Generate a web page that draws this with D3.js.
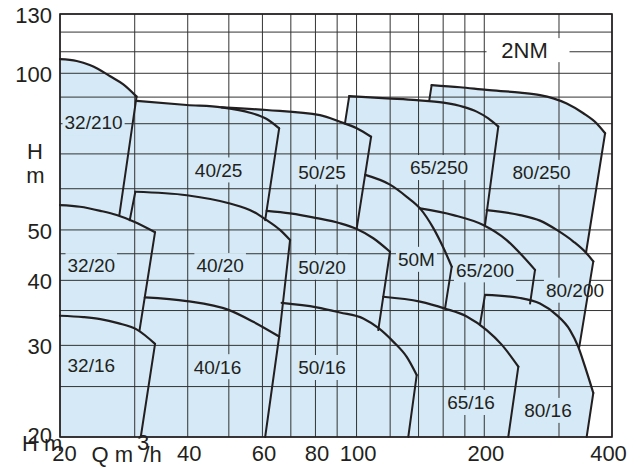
<!DOCTYPE html>
<html><head><meta charset="utf-8">
<script src="https://cdn.jsdelivr.net/npm/d3@7"></script>
<style>
body{margin:0;background:#fff}
svg{display:block}
text{font-family:"Liberation Sans",Arial,Helvetica,sans-serif;fill:#231f20}
</style>
</head><body>
<svg id="c" width="640" height="468"></svg>
<script>
// ---- axis ticks and grid (Q in m3/h, H in m) ----
const xTicks = [20, 40, 60, 80, 100, 200, 400];
const yTicks = [20, 30, 40, 50, 100, 130];
const xGrid = [20, 30, 40, 50, 60, 70, 80, 90, 100, 120, 140, 160, 180, 200, 300, 400];
const yGrid = [20, 25, 30, 35, 40, 45, 50, 60, 70, 80, 90, 100, 110, 120, 130];

// ---- performance curves [Q, H] ----
const c32_210 = [[20,106.5],[21.9,105.6],[23.5,103.7],[24.6,101.9],[26.2,98.8],[28.2,95.2],[30.3,90.2]];
const e32_210 = [[30.3,90.2],[27.6,53.4]];
const c32_20  = [[20,55.8],[22.3,55.4],[24.9,54.4],[27.2,53.4],[29.8,51.9],[33.5,49.5]];
const e32_20  = [[33.5,49.5],[30.8,32.1]];
const c32_16  = [[20,34.2],[22.7,34.0],[24.9,33.7],[27.4,33.1],[30.3,32.2],[33.5,30.2]];
const e32_16  = [[33.5,30.2],[31.0,20]];

const c40_25  = [[30.3,88.5],[39.8,86.9],[48.1,86.0],[56.1,84.0],[61.4,81.7],[65.7,78.4]];
const e40_25  = [[65.7,78.4],[60.9,52.2]];
const c40_20  = [[30.1,59.2],[39.8,58.3],[50.3,56.2],[57.1,54.2],[61.4,52.2],[66.0,50.0],[69.7,47.8]];
const l40_20  = [[30.1,59.2],[29.2,52.2]];
const e40_20  = [[69.7,47.8],[65.7,31.2]];
const c40_16  = [[31.7,37.1],[39.8,36.5],[49.9,35.1],[57.1,33.3],[65.7,31.2]];
const e40_16  = [[65.7,31.2],[60.9,20]];

const c50_25  = [[48.1,86.0],[61.4,85.0],[82.0,83.1],[91.4,80.7],[100.1,78.4],[108.2,75.5]];
const e50_25  = [[108.2,75.5],[100.1,50.4]];
const c50_20  = [[61.4,54.4],[69.7,53.8],[80.5,52.7],[91.4,51.5],[100.1,50.2],[109.5,48.2],[119.9,45.4]];
const e50_20  = [[119.9,45.4],[112.5,32.1]];
const c50_16  = [[66.6,36.2],[80.5,35.5],[91.4,34.7],[103.7,33.8],[112.5,32.4],[122.0,30.5],[131.3,28.5],[138.6,26.3]];
const e50_16  = [[138.6,26.3],[132.4,20]];

const c50M    = [[104.8,63.8],[119.9,61.1],[131.3,57.9],[141.1,55.0],[151.7,50.4],[160.2,46.2],[167.6,42.5]];
const e50M    = [[167.6,42.5],[161.6,35.3]];

const c65_250 = [[96.1,90.4],[117.8,89.5],[138.6,88.8],[160.2,87.8],[178.5,86.2],[191.9,84.4],[204.4,81.9],[215.8,79.0]];
const l65_250 = [[96.1,90.4],[93.9,80.1]];
const e65_250 = [[215.8,79.0],[200.8,51.1]];
const c65_200 = [[141.1,55.0],[169.1,53.4],[198.9,51.1],[225.8,47.8],[247.2,44.4],[263.4,41.9]];
const e65_200 = [[263.4,41.9],[256.4,36.1]];
const c65_16  = [[115.6,37.2],[141.1,36.4],[161.6,35.3],[181.8,34.1],[202.6,32.1],[219.8,30.1],[240.6,27.3]];
const e65_16  = [[240.6,27.3],[227.8,20]];

const c80_250 = [[150.3,94.9],[175.3,94.0],[202.6,92.9],[242.8,91.8],[270.6,90.8],[290.8,89.5],[312.8,87.5],[342.4,83.8],[368.2,80.1],[385.3,76.7]];
const l80_250 = [[150.3,94.9],[148.4,88.8]];
const e80_250 = [[385.3,76.7],[347.4,45.2]];
const c80_200 = [[202.6,54.6],[242.8,53.4],[270.6,52.1],[296.3,50.0],[324.3,47.5],[347.4,45.2],[361.4,43.5]];
const e80_200 = [[361.4,43.5],[334.9,29.8]];
const c80_16  = [[200.8,37.5],[242.8,37.0],[270.6,36.1],[296.3,34.3],[318.4,32.1],[333.1,29.8],[345.5,27.3],[361.4,24.3]];
const l80_16  = [[200.8,37.5],[195.4,32.9]];
const e80_16  = [[361.4,24.3],[348.6,20]];

// ---- model labels [text, Q, H] ----
const modelLabels = [
  ["32/210",24.0,80.4],["40/25",47.3,65.2],["50/25",82.9,64.6],["65/250",156.4,65.9],["80/250",273.0,64.5],
  ["32/20",23.7,42.7],["40/20",47.7,42.7],["50/20",82.9,42.4],["50M",138.4,43.9],["65/200",200.8,41.9],["80/200",327.2,38.3],
  ["32/16",23.7,27.5],["40/16",47.0,27.3],["50/16",82.9,27.2],["65/16",186.1,23.3],["80/16",282.6,22.5]
];
const seriesTitle = ["2NM", 248.8, 110.8];

// ---- drawing ----
const svg = d3.select("#c");
const L = 60, R = 612, T = 14, B = 437;
const x = d3.scaleLog().domain([20, 400]).range([L, R]);
const y = d3.scaleLog().domain([20, 130]).range([B, T]);
const FILL = "#d5eaf6", INK = "#231f20";

svg.append("rect").attr("width", 640).attr("height", 468).attr("fill", "#fff");

// envelope of all operating areas
const upTo = (c, q) => c.filter(p => p[0] <= q);
const after = (c, q, q2) => c.filter(p => p[0] > q && (q2 === undefined || p[0] < q2));
const outline = [
  ...c32_210,
  ...upTo(c40_25, c50_25[0][0]),
  ...after(c50_25, c50_25[0][0], l65_250[1][0]), l65_250[1], l65_250[0],
  ...after(c65_250, l65_250[0][0], l80_250[1][0]), l80_250[1],
  ...c80_250,
  e80_250[1], ...after(c80_200, e80_250[1][0]),
  e80_200[1], ...after(c80_16, e80_200[1][0]),
  e80_16[1], [20, 20]
];
const lin = d3.line().x(d => x(d[0])).y(d => y(d[1]));
const outlineD = lin(outline) + "Z";
svg.append("defs").append("clipPath").attr("id", "area-clip")
  .append("path").attr("d", outlineD);
svg.append("path").attr("d", outlineD).attr("fill", FILL);

// grid
const g = svg.append("g").attr("stroke", "#333").attr("stroke-width", 1);
g.selectAll("line.v").data(xGrid).join("line").attr("class", "v")
  .attr("x1", d => x(d)).attr("x2", d => x(d)).attr("y1", T).attr("y2", B);
g.selectAll("line.h").data(yGrid).join("line").attr("class", "h")
  .attr("x1", L).attr("x2", R).attr("y1", d => y(d)).attr("y2", d => y(d));

// label masks (clipped to the coloured area), curves, texts
const maskG = svg.append("g").attr("clip-path", "url(#area-clip)");
const whiteG = svg.append("g");
const lineG = svg.append("g");
const textG = svg.append("g");

svg.append("rect").attr("x", L).attr("y", T).attr("width", R - L).attr("height", B - T)
  .attr("fill", "none").attr("stroke", INK).attr("stroke-width", 1.6);

const curves = [c32_210, c32_20, c32_16, c40_25, c40_20, c40_16, c50_25, c50_20, c50_16, c50M,
  c65_250, c65_200, c65_16, c80_250, c80_200, c80_16];
const edges = [e32_210, e32_20, e32_16, e40_25, l40_20, e40_20, e40_16, e50_25, e50_20, e50_16, e50M,
  l65_250, e65_250, e65_200, e65_16, l80_250, e80_250, e80_200, e80_16, l80_16];
const smooth = d3.line().x(d => x(d[0])).y(d => y(d[1])).curve(d3.curveMonotoneX);
lineG.selectAll("path.c").data(curves).join("path").attr("class", "c")
  .attr("d", smooth).attr("fill", "none").attr("stroke", INK).attr("stroke-width", 2.2)
  .attr("stroke-linejoin", "round").attr("stroke-linecap", "round");
lineG.selectAll("path.e").data(edges).join("path").attr("class", "e")
  .attr("d", lin).attr("fill", "none").attr("stroke", INK).attr("stroke-width", 2)
  .attr("stroke-linecap", "round");

const lt = textG.selectAll("text.m").data(modelLabels).join("text").attr("class", "m")
  .attr("x", d => x(d[1])).attr("y", d => y(d[2])).attr("dy", "0.36em")
  .attr("text-anchor", "middle").attr("font-size", 19).text(d => d[0]);
lt.each(function(d) {
  const bb = this.getBBox();
  maskG.append("rect").attr("x", bb.x - 2).attr("width", bb.width + 4)
    .attr("y", y(d[2]) - 12.5).attr("height", 25).attr("fill", FILL);
});

// series title with white box
whiteG.append("rect").attr("x", x(seriesTitle[1]) - 38).attr("width", 83)
  .attr("y", y(seriesTitle[2]) - 12).attr("height", 24).attr("fill", "#fff");
textG.append("text").attr("x", x(seriesTitle[1])).attr("y", y(seriesTitle[2])).attr("dy", "0.36em")
  .attr("text-anchor", "middle").attr("font-size", 22).text(seriesTitle[0]);

// axes
const ax = svg.append("g").attr("transform", `translate(0,${B})`)
  .call(d3.axisBottom(x).tickValues(xTicks).tickSize(0).tickPadding(8).tickFormat(d3.format("d")));
ax.select(".domain").remove();
ax.selectAll("text").attr("font-size", 22).attr("font-family", null).attr("fill", INK)
  .attr("dx", d => d === 20 ? 4 : d === 400 ? -4 : 1);
const ay = svg.append("g").attr("transform", `translate(${L},0)`)
  .call(d3.axisLeft(y).tickValues(yTicks).tickSize(0).tickPadding(8).tickFormat(d3.format("d")));
ay.select(".domain").remove();
ay.selectAll("text").attr("font-size", 22).attr("font-family", null).attr("fill", INK)
  .attr("dy", d => d === 20 ? "0.27em" : "0.38em");

// axis titles (the reference overlaps these with the "20" tick labels)
svg.append("text").attr("x", 35).attr("y", 159).attr("text-anchor", "middle").attr("font-size", 22).text("H");
svg.append("text").attr("x", 35.5).attr("y", 183).attr("text-anchor", "middle").attr("font-size", 22).text("m");
svg.append("text").attr("x", 22).attr("y", 451).attr("font-size", 22).text("H m");
svg.append("text").attr("x", 91.5).attr("y", 461.5).attr("font-size", 22).text("Q m");
svg.append("text").attr("x", 137).attr("y", 450).attr("font-size", 22).text("3");
svg.append("text").attr("x", 143.5).attr("y", 461.5).attr("font-size", 22).text("/h");
</script>
</body></html>
